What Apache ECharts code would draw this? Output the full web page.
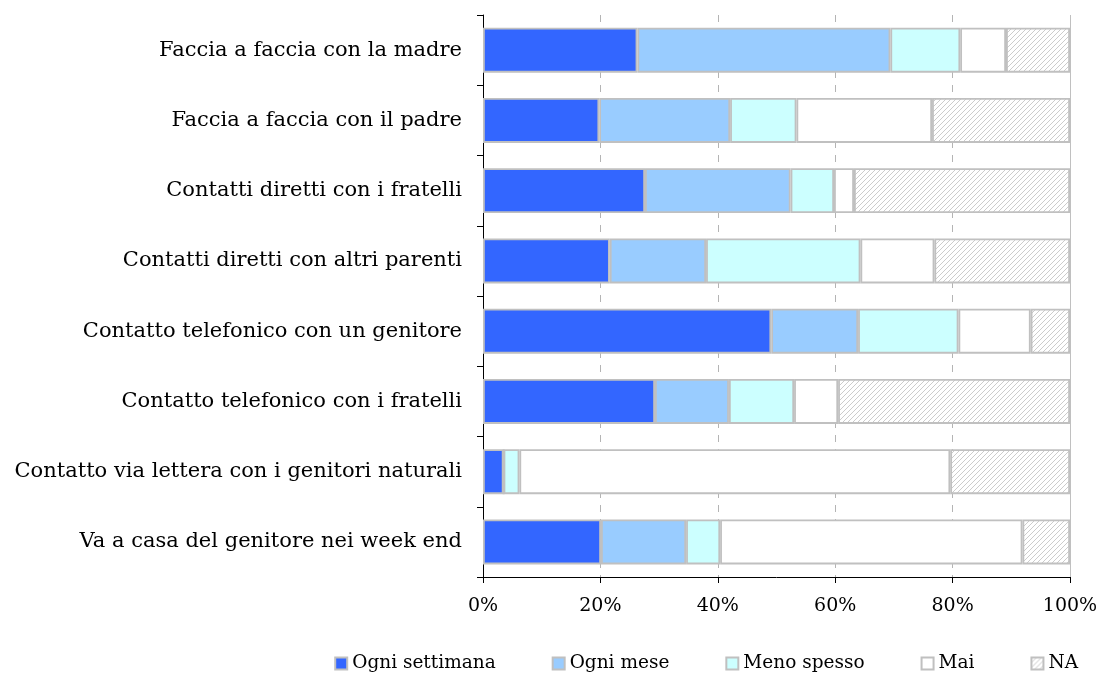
<!DOCTYPE html>
<html>
<head>
<meta charset="utf-8">
<script src="https://cdn.jsdelivr.net/npm/echarts@6/dist/echarts.min.js"></script>
<style>
  html, body { margin: 0; padding: 0; background: #fff; }
  #chart { width: 1099px; height: 679px; }
</style>
</head>
<body>
<div id="chart"></div>
<script>
// categorie (dall'alto in basso)
var categorie = [
  'Faccia a faccia con la madre',
  'Faccia a faccia con il padre',
  'Contatti diretti con i fratelli',
  'Contatti diretti con altri parenti',
  'Contatto telefonico con un genitore',
  'Contatto telefonico con i fratelli',
  'Contatto via lettera con i genitori naturali',
  'Va a casa del genitore nei week end'
];

// valori in percentuale
var ogniSettimana = [26.3, 19.8, 27.6, 21.6, 49.1, 29.3, 3.5, 20.1];
var ogniMese      = [43.1, 22.3, 24.8, 16.4, 14.8, 12.6, 0.0, 14.5];
var menoSpesso    = [11.9, 11.3,  7.4, 26.3, 17.1, 11.1, 2.7,  5.8];
var mai           = [ 7.8, 23.1,  3.4, 12.6, 12.3,  7.5, 73.4, 51.5];
var na            = [10.9, 23.5, 36.8, 23.1,  6.7, 39.5, 20.4,  8.1];

var tickLabels = ['0%', '20%', '40%', '60%', '80%', '100%'];

// tratteggio per NA
function hatch() {
  var c = document.createElement('canvas');
  c.width = 5; c.height = 5;
  var ctx = c.getContext('2d');
  ctx.fillStyle = '#ffffff';
  ctx.fillRect(0, 0, 5, 5);
  ctx.strokeStyle = '#cccccc';
  ctx.lineWidth = 1;
  ctx.beginPath();
  ctx.moveTo(0, 5); ctx.lineTo(5, 0);
  ctx.moveTo(-2.5, 2.5); ctx.lineTo(2.5, -2.5);
  ctx.moveTo(2.5, 7.5); ctx.lineTo(7.5, 2.5);
  ctx.stroke();
  return c;
}

var font = 'DejaVu Serif';
var bordo = '#c0c0c0';

function serie(nome, dati, colore) {
  return {
    name: nome,
    type: 'bar',
    stack: 'tot',
    barWidth: 45,
    data: dati,
    itemStyle: { color: colore, borderColor: bordo, borderWidth: 1.8 }
  };
}

var myChart = echarts.init(document.getElementById('chart'));

var series = [
  serie('Ogni settimana', ogniSettimana, '#3366ff'),
  serie('Ogni mese', ogniMese, '#99ccff'),
  serie('Meno spesso', menoSpesso, '#ccffff'),
  serie('Mai', mai, '#ffffff'),
  serie('NA', na, { image: hatch(), repeat: 'repeat' })
];
// linea continua al 100%
series[0].markLine = {
  silent: true,
  symbol: 'none',
  label: { show: false },
  lineStyle: { color: '#c0c0c0', type: 'solid', width: 1 },
  data: [{ xAxis: 100 }]
};

var option = {
  animation: false,
  textStyle: { fontFamily: font },
  grid: { left: 483, right: 29, top: 15, bottom: 102, containLabel: false, outerBoundsMode: 'none' },
  legend: {
    bottom: 1,
    right: 16,
    icon: 'rect',
    itemWidth: 12,
    itemHeight: 12,
    itemGap: 56,
    textStyle: { fontFamily: font, fontSize: 18.5, color: '#000' },
    data: ['Ogni settimana', 'Ogni mese', 'Meno spesso', 'Mai', 'NA']
  },
  xAxis: {
    type: 'value',
    min: 0,
    max: 100,
    interval: 20,
    axisLine: { show: true, lineStyle: { color: '#000', width: 1 } },
    axisTick: { show: true, length: 6, lineStyle: { color: '#000' } },
    axisLabel: {
      margin: 20,
      fontSize: 19,
      color: '#000',
      fontFamily: font,
      formatter: function (v) { return tickLabels[v / 20]; }
    },
    splitLine: { show: true, lineStyle: { color: '#b4b4b4', type: [7, 7] } }
  },
  yAxis: {
    type: 'category',
    inverse: true,
    data: categorie,
    axisLine: { show: true, lineStyle: { color: '#000', width: 1 } },
    axisTick: { show: true, length: 6, alignWithLabel: false, lineStyle: { color: '#000' } },
    axisLabel: { margin: 21, fontSize: 21, color: '#000', fontFamily: font }
  },
  series: series
};

myChart.setOption(option);
</script>
</body>
</html>
